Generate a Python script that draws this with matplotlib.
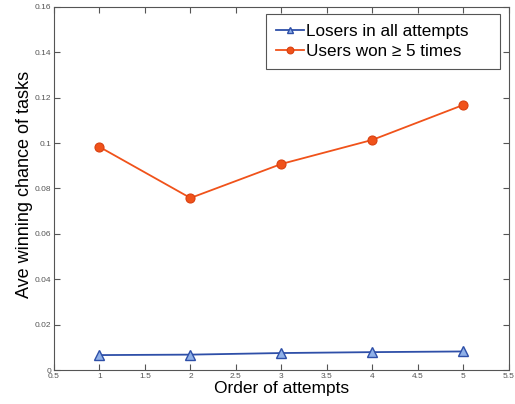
import matplotlib
matplotlib.use("Agg")
import matplotlib.pyplot as plt

plt.rcParams['font.family'] = ['Liberation Sans', 'DejaVu Sans']

attempts = [1, 2, 3, 4, 5]
losers = [0.0066, 0.0068, 0.0075, 0.0079, 0.0082]
winners = [0.0983, 0.0758, 0.0908, 0.1014, 0.1168]
xticks = [0.5, 1, 1.5, 2, 2.5, 3, 3.5, 4, 4.5, 5, 5.5]
yticks = [0, 0.02, 0.04, 0.06, 0.08, 0.1, 0.12, 0.14, 0.16]
xtick_labels = ["0.5", "1", "1.5", "2", "2.5", "3", "3.5", "4", "4.5", "5", "5.5"]
ytick_labels = ["0", "0.02", "0.04", "0.06", "0.08", "0.1", "0.12", "0.14", "0.16"]

fig = plt.figure(figsize=(5.15, 4.04), dpi=100)
ax = fig.add_axes([0.1049, 0.084, 0.883, 0.899])

ax.plot(attempts, losers, color='#2E4FA8', lw=1.3, marker='^', markersize=6.5,
        markerfacecolor='#8FB0E8', markeredgecolor='#2E4FA8', markeredgewidth=1.0,
        label='Losers in all attempts')
ax.plot(attempts, winners, color='#F0521A', lw=1.3, marker='o', markersize=6.5,
        markerfacecolor='#F0521A', markeredgecolor='#D94010', markeredgewidth=0.8,
        label='Users won \u2265 5 times')

ax.set_xlim(0.5, 5.5)
ax.set_ylim(0, 0.16)
ax.set_xticks(xticks)
ax.set_xticklabels(xtick_labels)
ax.set_yticks(yticks)
ax.set_yticklabels(ytick_labels)
ax.tick_params(direction='in', top=True, right=True, labelsize=6, labelcolor='#555555',
               color='#555555', length=4, width=0.8, pad=2)
for s in ax.spines.values():
    s.set_color('#555555')
    s.set_linewidth(0.8)

ax.set_xlabel('Order of attempts', fontsize=12.5, labelpad=1)
ax.set_ylabel('Ave winning chance of tasks', fontsize=13)
ax.yaxis.set_label_coords(-0.046, 0.51)

leg = ax.legend(loc='upper left', fontsize=12.3, handlelength=1.6, handletextpad=0.15,
                borderpad=0.6, labelspacing=0.3, fancybox=False, framealpha=1,
                edgecolor='#555555', markerscale=0.75, mode='expand',
                bbox_to_anchor=(0.466, 0.0, 0.514, 0.981), borderaxespad=0)
leg.get_frame().set_linewidth(0.8)

fig.savefig('out.png', dpi=100)
